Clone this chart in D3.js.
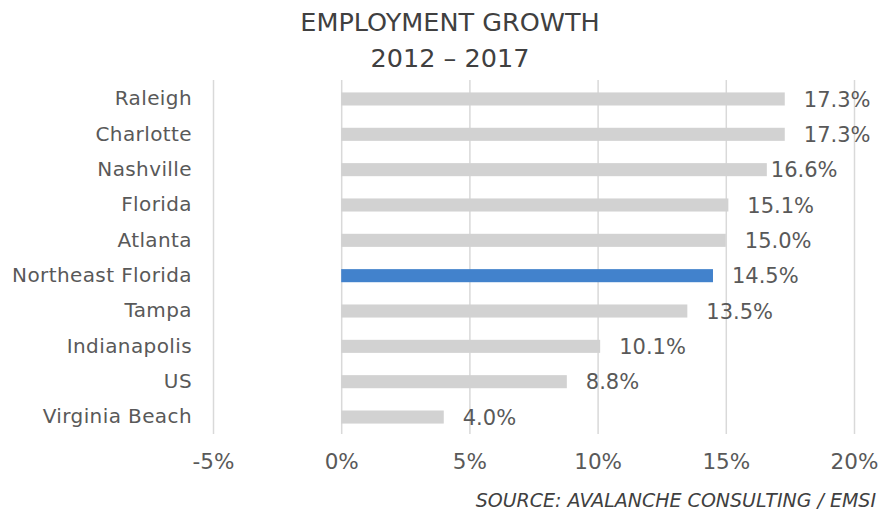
<!DOCTYPE html>
<html>
<head>
<meta charset="utf-8">
<script src="https://cdn.jsdelivr.net/npm/d3@7"></script>
<style>
  html, body { margin: 0; padding: 0; background: #fff; }
  svg { display: block; font-family: "DejaVu Sans", sans-serif; }
</style>
</head>
<body>
<svg id="chart" width="892" height="511"></svg>
<script>
// Employment growth 2012–2017 by metro area
const categories = ["Raleigh", "Charlotte", "Nashville", "Florida", "Atlanta",
  "Northeast Florida", "Tampa", "Indianapolis", "US", "Virginia Beach"];
const growth = [17.3, 17.3, 16.6, 15.1, 15.0, 14.5, 13.5, 10.1, 8.8, 4.0];
const highlight = "Northeast Florida";
const tickValues = [-5, 0, 5, 10, 15, 20];
const titleLines = ["EMPLOYMENT GROWTH", "2012 \u2013 2017"];
const sourceNote = "SOURCE: AVALANCHE CONSULTING / EMSI";

const rows = categories.map((c, i) => ({ name: c, value: growth[i] }));

const svg = d3.select("#chart");
const textColor = "#595959";
const font = "'DejaVu Sans', sans-serif";

const x = d3.scaleLinear().domain([-5, 20]).range([213, 854]);
const y = d3.scaleBand()
  .domain(categories)
  .range([81.3, 434.7])
  .paddingInner(0.63)
  .paddingOuter(0.315);

// gridlines + tick labels
const xAxis = svg.append("g")
  .attr("transform", "translate(0,434)")
  .call(d3.axisBottom(x)
    .tickValues(tickValues)
    .tickSizeInner(-354)
    .tickSizeOuter(0)
    .tickPadding(20)
    .tickFormat(d => d + "%"));
xAxis.select(".domain").remove();
xAxis.selectAll(".tick line").attr("stroke", "#d9d9d9").attr("stroke-width", 1.5);
xAxis.selectAll(".tick text")
  .attr("fill", textColor)
  .style("font-size", "21.5px")
  .style("font-family", font);

// category labels
const yAxis = svg.append("g")
  .attr("transform", "translate(213,0)")
  .call(d3.axisLeft(y).tickSize(0).tickPadding(21));
yAxis.select(".domain").remove();
yAxis.selectAll(".tick text")
  .attr("fill", textColor)
  .style("font-size", "20px")
  .style("letter-spacing", "0.4px")
  .style("font-family", font);

// bars
svg.append("g").selectAll("rect")
  .data(rows)
  .join("rect")
  .attr("x", x(0))
  .attr("y", d => y(d.name))
  .attr("width", d => x(d.value) - x(0))
  .attr("height", y.bandwidth())
  .attr("fill", d => d.name === highlight ? "#4282cc" : "#d2d2d2");

// value labels
const labelShift = { Nashville: -15 };
svg.append("g").selectAll("text")
  .data(rows)
  .join("text")
  .attr("x", d => x(d.value) + 19 + (labelShift[d.name] || 0))
  .attr("y", d => y(d.name) + y.bandwidth() / 2)
  .attr("dy", "0.36em")
  .attr("fill", textColor)
  .style("font-size", "21px")
  .text(d => d.value.toFixed(1) + "%");

// title
svg.append("g").selectAll("text")
  .data(titleLines)
  .join("text")
  .attr("x", 450)
  .attr("y", (d, i) => 31 + i * 36)
  .attr("text-anchor", "middle")
  .attr("fill", "#404040")
  .style("font-size", "25.5px")
  .text(d => d);

// source note
svg.append("text")
  .attr("x", 876)
  .attr("y", 507)
  .attr("text-anchor", "end")
  .attr("fill", "#404040")
  .style("font-size", "19px")
  .style("font-style", "italic")
  .text(sourceNote);
</script>
</body>
</html>
